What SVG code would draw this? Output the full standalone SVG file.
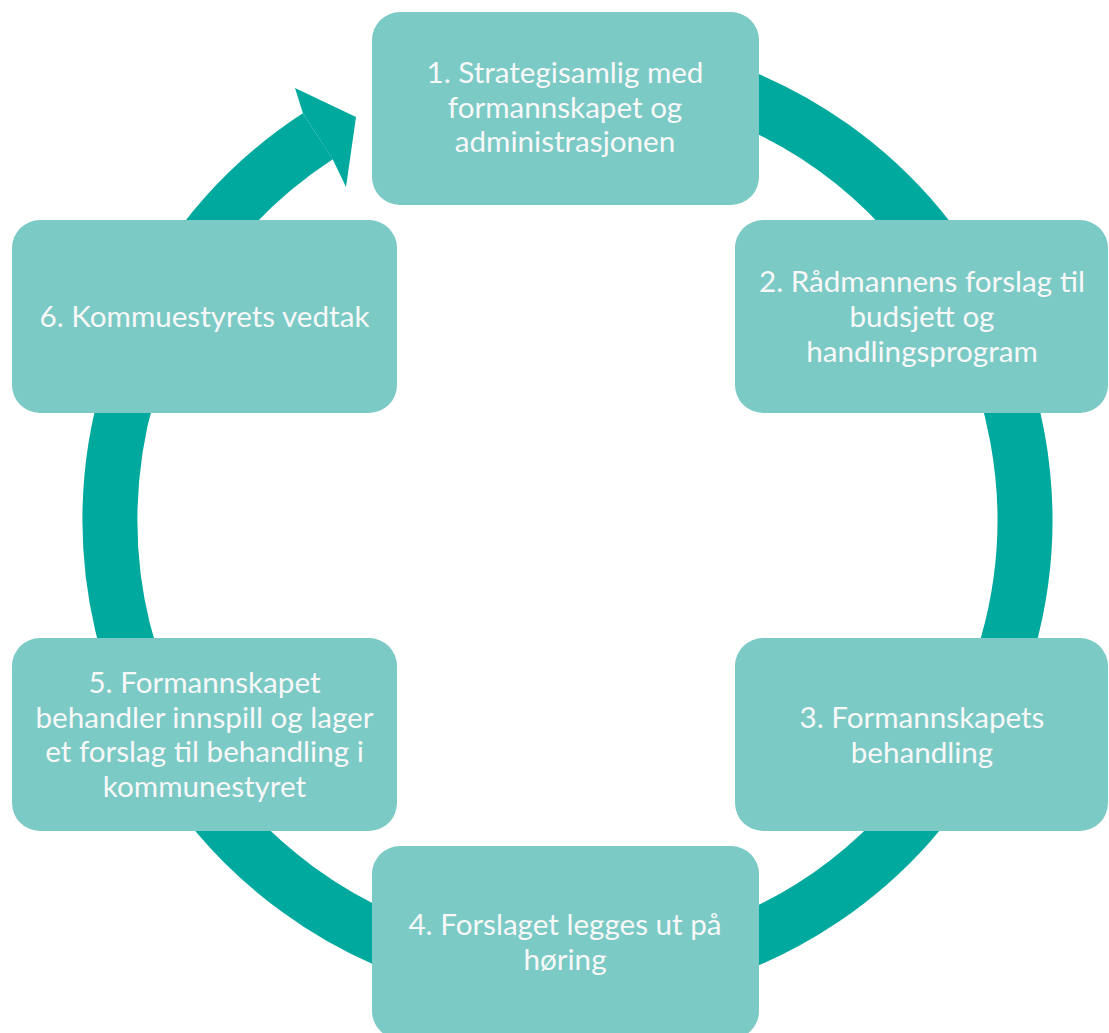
<svg xmlns="http://www.w3.org/2000/svg" width="1109" height="1033" viewBox="0 0 1109 1033">
<style>
.box{fill:#7BCAC5}
.t{font-family:Lato,"Liberation Sans",sans-serif;font-size:29.6px;fill:#F8F8F8;text-anchor:middle}
.ring{fill:none;stroke:#00A99D;stroke-width:55}
</style>
<rect width="1109" height="1033" fill="#FFFFFF"/>
<g id="connectors">
<path class="ring" d="M527,64 A457.5,457.5 0 1 1 317.8,136.3"/>
<polygon points="302.9,113.2 295,88 356,117 346,187 332.8,159.4" fill="#00A99D"/>
</g>
<g id="node1">
<rect class="box" x="372" y="12" width="387" height="193" rx="28"/>
<text class="t" x="565" y="83">1. Strategisamlig med</text>
<text class="t" x="565" y="118">formannskapet og</text>
<text class="t" x="565" y="152">administrasjonen</text>
</g>
<g id="node2">
<rect class="box" x="735" y="220" width="373" height="193" rx="28"/>
<text class="t" x="922" y="292">2. Rådmannens forslag til</text>
<text class="t" x="922" y="327">budsjett og</text>
<text class="t" x="922" y="362">handlingsprogram</text>
</g>
<g id="node3">
<rect class="box" x="735" y="638" width="373" height="193" rx="28"/>
<text class="t" x="922" y="728">3. Formannskapets</text>
<text class="t" x="922" y="763">behandling</text>
</g>
<g id="node4">
<rect class="box" x="372" y="846" width="387" height="193" rx="28"/>
<text class="t" x="565" y="935">4. Forslaget legges ut på</text>
<text class="t" x="565" y="970">høring</text>
</g>
<g id="node5">
<rect class="box" x="12" y="638" width="385" height="193" rx="28"/>
<text class="t" x="204.5" y="693">5. Formannskapet</text>
<text class="t" x="204.5" y="728">behandler innspill og lager</text>
<text class="t" x="204.5" y="762">et forslag til behandling i</text>
<text class="t" x="204.5" y="797">kommunestyret</text>
</g>
<g id="node6">
<rect class="box" x="12" y="220" width="385" height="193" rx="28"/>
<text class="t" x="204.5" y="327">6. Kommuestyrets vedtak</text>
</g>
</svg>
